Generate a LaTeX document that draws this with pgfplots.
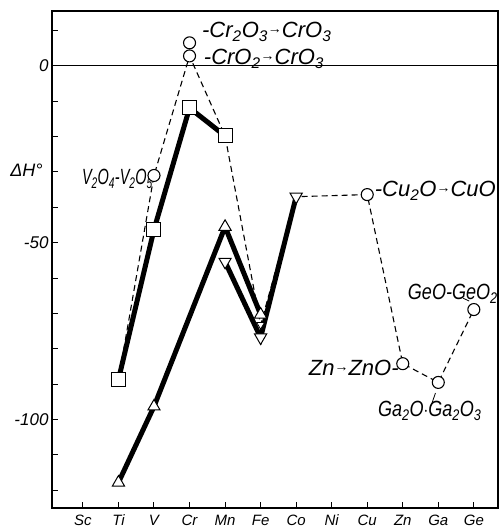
\documentclass[border=0pt]{standalone}
\usepackage{pgfplots}
\pgfplotsset{compat=1.18}
\usepackage{fontspec}
\setmainfont{Liberation Sans}
\newcommand{\s}[1]{\textsubscript{#1}}
\newcommand{\lab}{\fontsize{22}{22}\selectfont\itshape}
\newcommand{\ar}{\raisebox{4pt}{\fontsize{14}{14}\selectfont →}}
\begin{document}
\begin{tikzpicture}
\begin{axis}[
  width=446pt, height=497pt, scale only axis,
  xmin=-0.87, xmax=11.68, ymin=-125, ymax=15.5,
  clip=false,
  xtick={0,...,11},
  xticklabels={Sc,Ti,V,Cr,Mn,Fe,Co,Ni,Cu,Zn,Ga,Ge},
  ytick={-100,-50,0}, yticklabels={-100,-50,0},
  minor ytick={-120,-110,...,10},
  xtick pos=bottom, ytick pos=left,
  tick align=inside,
  major tick length=6pt, minor tick length=6pt,
  axis line style={line width=1.2pt},
  every tick/.style={black, line width=1pt},
  xticklabel style={font=\fontsize{15}{15}\selectfont\itshape, anchor=base, yshift=-18pt},
  yticklabel style={font=\fontsize{17}{17}\selectfont\itshape},
]
\coordinate (ll) at (rel axis cs:0,0);
\coordinate (ur) at (rel axis cs:1,1);
% zero line
\addplot[black, line width=1.3pt] coordinates {(-0.87,0) (11.68,0)};
% dashed series
\addplot[black, line width=1.1pt, dash pattern=on 6pt off 4pt] coordinates {
 (1,-88.7) (2,-31) (3,2.8) (4,-19.8) (5,-73.2) (6,-37) (8,-36.4) (9,-84.2) (10,-89.5) (11,-68.9)};
% thick lines
\addplot[black, line width=5pt] coordinates {(1,-88.7) (2,-46.3) (3,-11.9) (4,-19.8)};
\addplot[black, line width=5pt] coordinates {(1,-117.8) (2,-96.3) (4,-45.5) (5,-70.3)};
\addplot[black, line width=5pt] coordinates {(4,-55.4) (5,-76.8) (6,-37)};
% marks
\addplot[only marks, mark=square*, mark size=7pt, mark options={fill=white, draw=black, line width=1pt}] coordinates {(1,-88.7) (2,-46.3) (3,-11.9) (4,-19.8)};
\addplot[only marks, mark=triangle*, mark size=7pt, mark options={fill=white, draw=black, line width=1pt}] coordinates {(1,-117.8) (2,-96.3) (4,-45.5) (5,-70.3)};
\addplot[only marks, mark=triangle*, mark size=4.5pt, mark options={fill=white, draw=black, line width=0.8pt, rotate=180}] coordinates {(5,-73.2)};
\addplot[only marks, mark=triangle*, mark size=7pt, mark options={fill=white, draw=black, line width=1pt, rotate=180}] coordinates {(4,-55.4) (5,-76.8) (6,-37)};
\addplot[only marks, mark=*, mark size=6pt, mark options={fill=white, draw=black, line width=1.1pt}] coordinates {(2,-31) (3,2.8) (3,6.5) (8,-36.4) (9,-84.2) (10,-89.5) (11,-68.9)};
% leaders
\draw[line width=0.8pt] (axis cs:9.92,-92.5) -- (axis cs:9.8,-96);
\draw[line width=0.8pt] (axis cs:10.87,-66.5) -- (axis cs:10.7,-65.7);
% labels
\node[anchor=base west, inner sep=0pt] at (axis cs:3.35,7.9) {\lab -Cr\s{2}O\s{3}\ar CrO\s{3}};
\node[anchor=base west, inner sep=0pt] at (axis cs:3.40,0.3) {\lab -CrO\s{2}\ar CrO\s{3}};
\node[anchor=base east, inner sep=0pt] at (axis cs:1.97,-33.6) {\lab\scalebox{0.66}[1]{V\s{2}O\s{4}-V\s{2}O\s{5}}};
\node[anchor=base west, inner sep=0pt] at (axis cs:8.21,-37) {\lab -Cu\s{2}O\ar CuO};
\node[anchor=base east, inner sep=0pt] at (axis cs:8.89,-87.6) {\lab Zn\ar ZnO-};
\node[anchor=base west, inner sep=0pt] at (axis cs:9.14,-66.1) {\lab\scalebox{0.82}[1]{GeO-GeO\s{2}}};
\node[anchor=base west, inner sep=0pt] at (axis cs:8.30,-99.2) {\lab\scalebox{0.82}[1]{Ga\s{2}O$\cdot$Ga\s{2}O\s{3}}};
\node[anchor=base west, inner sep=0pt] at (axis cs:-2.05,-31.4) {\fontsize{18}{18}\selectfont\itshape ΔH°};
\end{axis}
\pgfresetboundingbox
\path[use as bounding box] ([xshift=-52pt,yshift=-20pt]ll) rectangle ([xshift=1pt,yshift=11pt]ur);
\end{tikzpicture}
\end{document}
